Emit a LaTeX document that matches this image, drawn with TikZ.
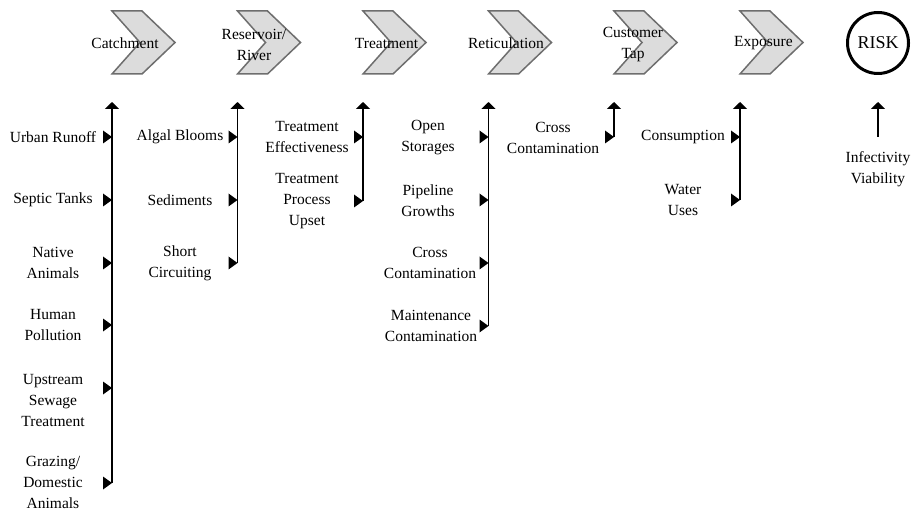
\documentclass[tikz,border=0pt]{standalone}
\usepackage{fontspec}
\setmainfont{Liberation Serif}
\usetikzlibrary{arrows.meta}
\definecolor{chevfill}{HTML}{DCDCDC}
\definecolor{chevline}{HTML}{6E6E6E}
\begin{document}
\begin{tikzpicture}[x=1pt,y=-1pt,
  lbl/.style={align=center,inner sep=0pt,font=\fontsize{15.5}{21}\selectfont},
  chev/.style={fill=chevfill,draw=chevline,line width=1.5pt,line join=miter},
  flow/.style={line width=1.8pt,-{Triangle[width=14pt,length=7pt]}},
  feed/.pic={\fill[black] (0,0) -- (-9,-6.5) -- (-9,6.5) -- cycle;},
  chevron/.pic={\path[chev] (0,11) -- (30,11) -- (63,42.5) -- (30,74) -- (0,74) -- (28,42.5) -- cycle;},
]
\useasboundingbox (0,0) rectangle (912,510);

% chevrons
\foreach \x in {112,237.5,363,488.5,614,740} { \pic at (\x,0) {chevron}; }
\node[lbl] (hCatch) at (125,43.5) {Catchment};
\node[lbl] (hRes) at (254,45) {Reservoir/\\River};
\node[lbl] (hTreat) at (386.5,43.5) {Treatment};
\node[lbl] (hRet) at (506,43.5) {Reticulation};
\node[lbl] (hTap) at (633,45) {Customer\\Tap};
\node[lbl] (hExp) at (763.5,43.5) {Exposure};
\node[circle,draw,line width=3pt,minimum size=61pt,inner sep=0pt,font=\fontsize{18}{21}\selectfont] (risk) at (878,43) {RISK};

% column coordinates
\coordinate (top1) at (112,102); \coordinate (bot1) at (112,483);
\coordinate (top2) at (237.5,102); \coordinate (bot2) at (237.5,263);
\coordinate (top3) at (363,102); \coordinate (bot3) at (363,201);
\coordinate (top4) at (488.5,102); \coordinate (bot4) at (488.5,326);
\coordinate (top5) at (614,102); \coordinate (bot5) at (614,137);
\coordinate (top6) at (740,102); \coordinate (bot6) at (740,200);
\coordinate (top7) at (878,102); \coordinate (bot7) at (878,137);

\foreach \i in {1,...,7} { \draw[flow] (bot\i) -- (top\i); }

% feeding triangles
\foreach \y in {137,200,263,325,388,483} { \pic at (112,\y) {feed}; }
\foreach \y in {137,200,263} { \pic at (237.5,\y) {feed}; }
\foreach \y in {137,201} { \pic at (363,\y) {feed}; }
\foreach \y in {137,200,263,326} { \pic at (488.5,\y) {feed}; }
\pic at (614,137) {feed};
\foreach \y in {137,200} { \pic at (740,\y) {feed}; }

% labels column 1
\node[lbl] (l11) at (53,137) {Urban Runoff};
\node[lbl] (l12) at (53,200) {Septic Tanks};
\node[lbl] (l13) at (53,263) {Native\\Animals};
\node[lbl] (l14) at (53,325.5) {Human\\Pollution};
\node[lbl] (l15) at (53,400) {Upstream\\Sewage\\Treatment};
\node[lbl] (l16) at (53,482) {Grazing/\\Domestic\\Animals};
% column 2
\node[lbl] (l21) at (180,137) {Algal Blooms};
\node[lbl] (l22) at (180,200) {Sediments};
\node[lbl] (l23) at (180,263) {Short\\Circuiting};
% column 3
\node[lbl] (l31) at (307,137.5) {Treatment\\Effectiveness};
\node[lbl] (l32) at (307,201) {Treatment\\Process\\Upset};
% column 4
\node[lbl] (l41) at (428,137.5) {Open\\Storages};
\node[lbl] (l42) at (428,200.5) {Pipeline\\Growths};
\node[lbl] (l43) at (430,263) {Cross\\Contamination};
\node[lbl] (l44) at (431,325.5) {Maintenance\\Contamination};
% column 5
\node[lbl] (l51) at (553,137.5) {Cross\\Contamination};
% column 6
\node[lbl] (l61) at (683,137) {Consumption};
\node[lbl] (l62) at (683,200.5) {Water\\Uses};
% column 7
\node[lbl] (l71) at (878,169) {Infectivity\\Viability};
\end{tikzpicture}
\end{document}
